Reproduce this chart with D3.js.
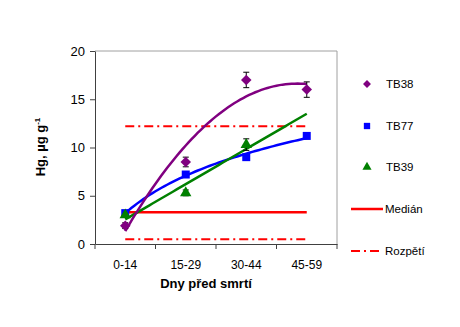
<!DOCTYPE html>
<html>
<head>
<meta charset="utf-8">
<script src="https://cdn.jsdelivr.net/npm/d3@7"></script>
<style>
  html, body { margin: 0; padding: 0; background: #fff; }
  svg { display: block; font-family: "Liberation Sans", Arial, sans-serif; }
</style>
</head>
<body>
<svg id="chart" width="460" height="327"></svg>
<script>
// Age classes (days before death)
const categories = ["0-14", "15-29", "30-44", "45-59"];

// Hg concentration, µg g-1, by series
const tb38 = [1.9, 8.5, 17.0, 16.0];
const tb38Err = [0.3, 0.5, 0.8, 0.8];
const tb77 = [3.2, 7.2, 9.0, 11.2];
const tb77Err = [0.2, 0.2, 0.2, 0.3];
const tb39 = [3.0, 5.3, 10.3];
const tb39Err = [0.2, 0.3, 0.6];

// Reference levels
const median = [3.3, 3.3, 3.3, 3.3];
const rangeLow = [0.5, 0.5, 0.5, 0.5];
const rangeHigh = [12.2, 12.2, 12.2, 12.2];

const yTicks = [0, 5, 10, 15, 20];
const legendLabels = ["TB38", "TB77", "TB39", "Medián", "Rozpětí"];

const colors = { tb38: "#800080", tb77: "#0000ff", tb39: "#008000", ref: "#ff0000" };
const FONT = "Liberation Sans, Arial, sans-serif";

const svg = d3.select("#chart");
const plot = { left: 95, right: 337, top: 51, bottom: 244 };

const x = d3.scaleBand().domain(categories).range([plot.left, plot.right]);
const cx = c => x(c) + x.bandwidth() / 2;
const y = d3.scaleLinear().domain([0, 20]).range([plot.bottom, plot.top]);

// Frame: top and right edges in light grey
svg.append("path")
  .attr("d", `M${plot.left},${plot.top}H${plot.right}V${plot.bottom}`)
  .attr("fill", "none").attr("stroke", "#a0a0a0").attr("stroke-width", 1);

// Axes
const xAxis = svg.append("g").attr("transform", `translate(0,${plot.bottom})`)
  .call(d3.axisBottom(x).tickSize(0).tickPadding(16));
xAxis.select(".domain").attr("stroke", "#404040");
xAxis.selectAll("text").attr("font-size", 12).attr("fill", "#000").attr("font-family", FONT);
// tick marks on category boundaries
const bounds = categories.map(c => x(c)).concat([plot.right]);
svg.append("g").selectAll("line").data(bounds).join("line")
  .attr("x1", d => d).attr("x2", d => d)
  .attr("y1", plot.bottom).attr("y2", plot.bottom + 5)
  .attr("stroke", "#404040");

const yAxis = svg.append("g").attr("transform", `translate(${plot.left},0)`)
  .call(d3.axisLeft(y).tickValues(yTicks).tickSize(5).tickPadding(5).tickSizeOuter(0));
yAxis.select(".domain").attr("stroke", "#404040");
yAxis.selectAll(".tick line").attr("stroke", "#404040");
yAxis.selectAll("text").attr("font-size", 13).attr("fill", "#000").attr("font-family", FONT);

// Axis titles
const yt = svg.append("text")
  .attr("transform", "translate(45,147) rotate(-90)")
  .attr("text-anchor", "middle").attr("font-size", 13).attr("font-weight", "bold");
yt.append("tspan").text("Hg, µg g");
yt.append("tspan").attr("dy", -5).attr("font-size", 8).text("-1");

svg.append("text").attr("x", 206).attr("y", 288)
  .attr("text-anchor", "middle").attr("font-size", 13).attr("font-weight", "bold")
  .text("Dny před smrtí");

// Reference lines
const line = d3.line().x((d, i) => cx(categories[i])).y(d => y(d));
svg.append("path").datum(rangeHigh).attr("d", line)
  .attr("fill", "none").attr("stroke", colors.ref).attr("stroke-width", 2)
  .attr("stroke-dasharray", "9,4,2,4");
svg.append("path").datum(rangeLow).attr("d", line)
  .attr("fill", "none").attr("stroke", colors.ref).attr("stroke-width", 2)
  .attr("stroke-dasharray", "9,4,2,4");
svg.append("path").datum(median).attr("d", line)
  .attr("fill", "none").attr("stroke", colors.ref).attr("stroke-width", 2.5);

// Trendlines (least-squares fits on category index 1..n)
function solve3(A, b) {
  const M = A.map((r, i) => r.concat([b[i]]));
  for (let i = 0; i < 3; i++) {
    let p = i;
    for (let k = i + 1; k < 3; k++) if (Math.abs(M[k][i]) > Math.abs(M[p][i])) p = k;
    [M[i], M[p]] = [M[p], M[i]];
    for (let k = 0; k < 3; k++) {
      if (k === i) continue;
      const f = M[k][i] / M[i][i];
      for (let j = i; j < 4; j++) M[k][j] -= f * M[i][j];
    }
  }
  return M.map((r, i) => r[3] / r[i]);
}
function polyFit2(vals) {
  const xs = vals.map((_, i) => i + 1);
  const S = k => d3.sum(xs, v => v ** k);
  const T = k => d3.sum(xs, (v, i) => v ** k * vals[i]);
  const [c, b, a] = solve3(
    [[S(0), S(1), S(2)], [S(1), S(2), S(3)], [S(2), S(3), S(4)]],
    [T(0), T(1), T(2)]);
  return t => a * t * t + b * t + c;
}
function linFit(vals, fn = v => v) {
  const xs = vals.map((_, i) => fn(i + 1));
  const mx = d3.mean(xs), my = d3.mean(vals);
  const m = d3.sum(xs, (v, i) => (v - mx) * (vals[i] - my)) / d3.sum(xs, v => (v - mx) ** 2);
  return t => my + m * (fn(t) - mx);
}
const tx = d3.scaleLinear().domain([1, 4]).range([cx(categories[0]), cx(categories[3])]);
const trend = (f) => d3.range(1, 4.001, 0.05).map(t => [tx(t), y(f(t))]);
const curve = d3.line();

svg.append("path").attr("d", curve(trend(linFit(tb77, Math.log))))
  .attr("fill", "none").attr("stroke", colors.tb77).attr("stroke-width", 2.5);
svg.append("path").attr("d", curve(trend(linFit(tb39))))
  .attr("fill", "none").attr("stroke", colors.tb39).attr("stroke-width", 2.5);
svg.append("path").attr("d", curve(trend(polyFit2(tb38))))
  .attr("fill", "none").attr("stroke", colors.tb38).attr("stroke-width", 2.5);

// Error bars
function errorBars(vals, errs) {
  const g = svg.append("g").attr("stroke", "#000").attr("stroke-width", 1);
  vals.forEach((v, i) => {
    const px = cx(categories[i]);
    g.append("line").attr("x1", px).attr("x2", px).attr("y1", y(v - errs[i])).attr("y2", y(v + errs[i]));
    [v - errs[i], v + errs[i]].forEach(e =>
      g.append("line").attr("x1", px - 3).attr("x2", px + 3).attr("y1", y(e)).attr("y2", y(e)));
  });
}
errorBars(tb38, tb38Err);
errorBars(tb77, tb77Err);
errorBars(tb39, tb39Err);

// Markers
const diamond = d3.symbol().type(d3.symbolDiamond2).size(70);
const square = d3.symbol().type(d3.symbolSquare).size(64);
const triangle = d3.symbol().type(d3.symbolTriangle).size(56);

function markers(vals, sym, color) {
  svg.append("g").selectAll("path").data(vals).join("path")
    .attr("transform", (d, i) => `translate(${cx(categories[i])},${y(d)})`)
    .attr("d", sym).attr("fill", color);
}
markers(tb77, square, colors.tb77);
markers(tb39, triangle, colors.tb39);
markers(tb38, diamond, colors.tb38);

// Legend
const lg = svg.append("g");
const legendY = [84, 126, 167, 209, 251];
const legendSyms = [
  { sym: d3.symbol().type(d3.symbolDiamond2).size(40), color: colors.tb38 },
  { sym: d3.symbol().type(d3.symbolSquare).size(40), color: colors.tb77 },
  { sym: d3.symbol().type(d3.symbolTriangle).size(36), color: colors.tb39 }
];
legendSyms.forEach((s, i) => {
  lg.append("path").attr("transform", `translate(367,${legendY[i]})`)
    .attr("d", s.sym).attr("fill", s.color);
});
lg.append("line").attr("x1", 351).attr("x2", 383).attr("y1", legendY[3]).attr("y2", legendY[3])
  .attr("stroke", colors.ref).attr("stroke-width", 2.5);
lg.append("line").attr("x1", 351).attr("x2", 383).attr("y1", legendY[4]).attr("y2", legendY[4])
  .attr("stroke", colors.ref).attr("stroke-width", 2).attr("stroke-dasharray", "9,4,2,4");
lg.selectAll("text").data(legendLabels).join("text")
  .attr("x", (d, i) => i < 3 ? 386 : 385)
  .attr("y", (d, i) => legendY[i] + 4)
  .attr("font-size", 11.5).text(d => d);
</script>
</body>
</html>
